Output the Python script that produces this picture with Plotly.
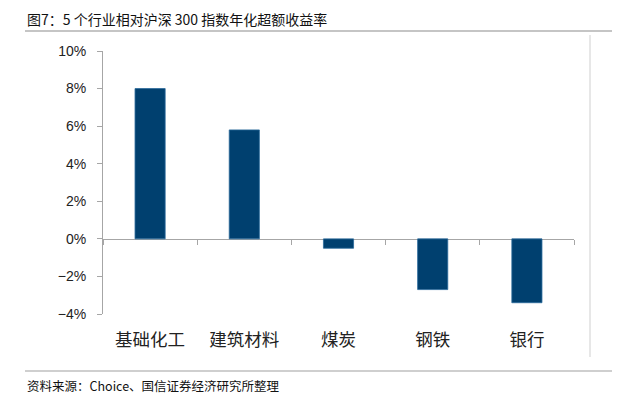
import plotly.graph_objects as go

categories = ["基础化工", "建筑材料", "煤炭", "钢铁", "银行"]
excess_return = [8.0, 5.8, -0.5, -2.7, -3.4]
y_tick_vals = [-4, -2, 0, 2, 4, 6, 8, 10]
y_tick_text = ["−4%", "−2%", "0%", "2%", "4%", "6%", "8%", "10%"]
title_text = "图7：5 个行业相对沪深 300 指数年化超额收益率"
source_text = "资料来源：Choice、国信证券经济研究所整理"

# page body has an 8px margin; figure sized to fit the window exactly
OFF = 8
W, H = 620 - OFF, 399 - OFF
L, T = 103 - OFF, 51 - OFF
R, B = W - (574 - OFF), H - (314 - OFF)
PW, PH = W - L - R, H - T - B
y_min, y_max = -4, 10
zero_pos = (0 - y_min) / (y_max - y_min)


def px(x):  # window pixel -> paper x
    return (x - OFF - L) / PW


def py(y):  # window pixel -> paper y
    return (H - B - (y - OFF)) / PH


fig = go.Figure()
fig.add_trace(go.Bar(
    x=categories, y=excess_return,
    marker=dict(color="#00406F", line=dict(color="#2a6a9a", width=0.8)),
    width=0.32, showlegend=False, hoverinfo="skip",
))
fig.add_trace(go.Scatter(x=categories, y=[0] * len(categories), xaxis="x2",
                         mode="none", showlegend=False, hoverinfo="skip"))

cjk = "Noto Sans CJK SC"
fig.update_layout(
    width=W, height=H,
    margin=dict(l=L, r=R, t=T, b=B, pad=0),
    paper_bgcolor="white", plot_bgcolor="white",
    xaxis=dict(
        type="category", showline=False, ticks="", showgrid=False, zeroline=False,
        tickfont=dict(family=cjk, size=17.5, color="#222"),
        ticklabelstandoff=13,
    ),
    xaxis2=dict(
        type="category", overlaying="x", anchor="free", position=zero_pos,
        side="bottom", matches="x", layer="below traces",
        showline=True, linecolor="#a6a6a6", linewidth=1,
        ticks="outside", ticklen=5, tickcolor="#a6a6a6", tickson="boundaries",
        showticklabels=False, showgrid=False, zeroline=False,
    ),
    yaxis=dict(
        range=[y_min, y_max], tickvals=y_tick_vals, ticktext=y_tick_text,
        showline=True, linecolor="#a6a6a6", linewidth=1,
        ticks="outside", ticklen=5, tickcolor="#a6a6a6",
        showgrid=False, zeroline=False,
        tickfont=dict(family="Liberation Sans, Arial", size=14, color="#222"),
        ticklabelstandoff=8,
    ),
    shapes=[
        dict(type="line", xref="paper", yref="paper",
             x0=px(25), x1=px(620), y0=py(31), y1=py(31),
             line=dict(color="#8c8c8c", width=1.2)),
        dict(type="line", xref="paper", yref="paper",
             x0=px(25), x1=px(620), y0=py(371), y1=py(371),
             line=dict(color="#a0a0a0", width=1.2)),
        dict(type="line", xref="paper", yref="paper",
             x0=px(590), x1=px(590), y0=py(35), y1=py(357),
             line=dict(color="#cfcfcf", width=1)),
    ],
    annotations=[
        dict(text=title_text, xref="paper", yref="paper",
             x=px(25), y=py(19), xanchor="left", yanchor="middle", showarrow=False,
             font=dict(family=cjk, size=14, color="#111")),
        dict(text=source_text, xref="paper", yref="paper",
             x=px(25), y=py(385), xanchor="left", yanchor="middle", showarrow=False,
             font=dict(family=cjk, size=12.5, color="#111")),
    ],
)

fig.write_html("out.html")
